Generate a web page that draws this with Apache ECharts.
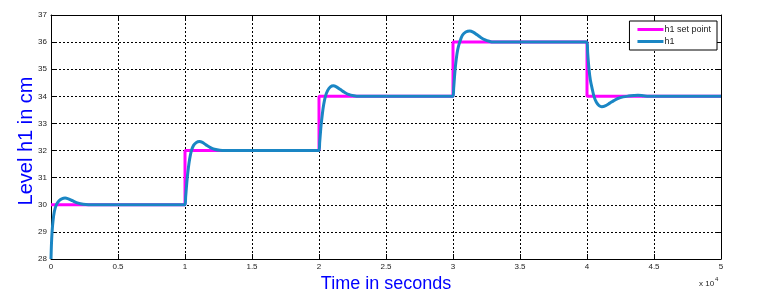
<!DOCTYPE html>
<html>
<head>
<meta charset="utf-8">
<script src="https://cdn.jsdelivr.net/npm/echarts@6/dist/echarts.min.js"></script>
<style>html,body{margin:0;padding:0;background:#fff;}#c{width:772px;height:295px;}</style>
</head>
<body>
<div id="c"></div>
<script>
// time in units of 10^4 seconds
var xTicks = [0, 0.5, 1, 1.5, 2, 2.5, 3, 3.5, 4, 4.5, 5];
var yTicks = [28, 29, 30, 31, 32, 33, 34, 35, 36, 37];

var setTimes  = [0, 1, 1, 2, 2, 3, 3, 4, 4, 5];
var setValues = [30, 30, 32, 32, 34, 34, 36, 36, 34, 34];

var h1Times = [0, 0.003, 0.008, 0.015, 0.025, 0.04, 0.06, 0.08, 0.105, 0.13, 0.16, 0.19, 0.22, 0.26, 0.3, 1.0,
  1.005, 1.015, 1.025, 1.035, 1.048, 1.065, 1.085, 1.107, 1.13, 1.16, 1.19, 1.22, 1.26, 1.3, 2.0,
  2.005, 2.015, 2.025, 2.035, 2.048, 2.065, 2.085, 2.107, 2.13, 2.16, 2.19, 2.22, 2.26, 2.3, 3.0,
  3.005, 3.015, 3.025, 3.035, 3.05, 3.07, 3.095, 3.125, 3.15, 3.18, 3.21, 3.24, 3.27, 3.3, 4.0,
  4.005, 4.015, 4.025, 4.04, 4.052, 4.07, 4.09, 4.11, 4.14, 4.17, 4.2, 4.23, 4.27, 4.31, 4.35, 4.38, 4.42, 4.46, 5.0];
var h1Values = [28, 28.5, 29.0, 29.4, 29.75, 30.0, 30.15, 30.22, 30.25, 30.22, 30.15, 30.08, 30.04, 30.01, 30.0, 30.0,
  30.3, 30.9, 31.35, 31.7, 32.0, 32.2, 32.3, 32.33, 32.3, 32.2, 32.11, 32.05, 32.01, 32.0, 32.0,
  32.3, 32.9, 33.35, 33.7, 34.0, 34.22, 34.35, 34.39, 34.35, 34.25, 34.15, 34.07, 34.02, 34.0, 34.0,
  34.3, 34.95, 35.4, 35.72, 36.0, 36.25, 36.37, 36.41, 36.37, 36.27, 36.16, 36.08, 36.03, 36.0, 36.0,
  35.6, 35.0, 34.6, 34.25, 34.0, 33.78, 33.66, 33.62, 33.66, 33.75, 33.84, 33.92, 33.98, 34.01, 34.03, 34.04, 34.02, 34.0, 34.0];

function zip(a, b) { return a.map(function (v, i) { return [v, b[i]]; }); }

var chart = echarts.init(document.getElementById('c'), null, {renderer: 'canvas'});
var labelStyle = {color: '#222', fontSize: 8, fontFamily: 'Liberation Sans, Arial, sans-serif'};
var gridLine = {show: true, lineStyle: {color: '#000', width: 1, type: [2, 2]}};
var axisLine = {show: true, onZero: false, lineStyle: {color: '#000', width: 1}};
var tick = {show: true, inside: true, length: 5, lineStyle: {color: '#000'}};

chart.setOption({
  animation: false,
  backgroundColor: '#fff',
  grid: {left: 51, right: 51, top: 15, bottom: 36, containLabel: false, outerBoundsMode: 'none'},
  legend: {
    orient: 'vertical', right: 55, top: 21,
    backgroundColor: '#fff', borderColor: '#000', borderWidth: 1,
    padding: [4, 6, 4, 8], itemGap: 3, itemWidth: 26, itemHeight: 3, icon: 'rect',
    textStyle: {fontSize: 9, color: '#222', fontFamily: 'Liberation Sans, Arial, sans-serif', padding: [0, 0, 0, -4]},
    data: ['h1 set point', 'h1']
  },
  xAxis: [{
    type: 'value', min: 0, max: 5, interval: 0.5,
    name: 'Time in seconds', nameLocation: 'middle', nameGap: 16, nameMoveOverlap: false,
    nameTextStyle: {color: '#0000ff', fontSize: 18, fontFamily: 'Liberation Sans, Arial, sans-serif'},
    axisLine: axisLine, axisTick: tick, splitLine: gridLine,
    axisLabel: Object.assign({margin: 4, formatter: function (v) { return xTicks.indexOf(v) >= 0 ? String(v) : ''; }}, labelStyle)
  }, {
    type: 'value', min: 0, max: 5, interval: 0.5, position: 'top',
    axisLine: axisLine, axisTick: tick, splitLine: {show: false}, axisLabel: {show: false}
  }],
  yAxis: [{
    type: 'value', min: 28, max: 37, interval: 1,
    name: 'Level h1 in cm', nameLocation: 'middle', nameGap: 15, nameMoveOverlap: false,
    nameTextStyle: {color: '#0000ff', fontSize: 20, fontFamily: 'Liberation Sans, Arial, sans-serif', padding: [0, 8, 0, 0]},
    axisLine: axisLine, axisTick: tick, splitLine: gridLine,
    axisLabel: Object.assign({margin: 4, formatter: function (v) { return yTicks.indexOf(v) >= 0 ? String(v) : ''; }}, labelStyle)
  }, {
    type: 'value', min: 28, max: 37, interval: 1, position: 'right',
    axisLine: axisLine, axisTick: tick, splitLine: {show: false}, axisLabel: {show: false}
  }],
  graphic: [{
    type: 'text', left: 699, top: 276,
    style: {
      text: '{a|x 10}{b|4}',
      rich: {
        a: {fontSize: 8, fill: '#222', fontFamily: 'Liberation Sans, Arial, sans-serif', padding: [4, 0, 0, 0]},
        b: {fontSize: 6, fill: '#222', fontFamily: 'Liberation Sans, Arial, sans-serif', verticalAlign: 'top', padding: [0, 0, 6, 1]}
      }
    }
  }],
  series: [{
    name: 'h1 set point', type: 'line', showSymbol: false, symbol: 'none',
    xAxisIndex: 0, yAxisIndex: 0,
    lineStyle: {color: '#ff00ff', width: 3}, itemStyle: {color: '#ff00ff'},
    data: zip(setTimes, setValues)
  }, {
    name: 'h1', type: 'line', showSymbol: false, symbol: 'none', smooth: 0.3,
    xAxisIndex: 0, yAxisIndex: 0,
    lineStyle: {color: '#1a86c4', width: 3}, itemStyle: {color: '#1a86c4'},
    data: zip(h1Times, h1Values)
  }]
});
</script>
</body>
</html>
